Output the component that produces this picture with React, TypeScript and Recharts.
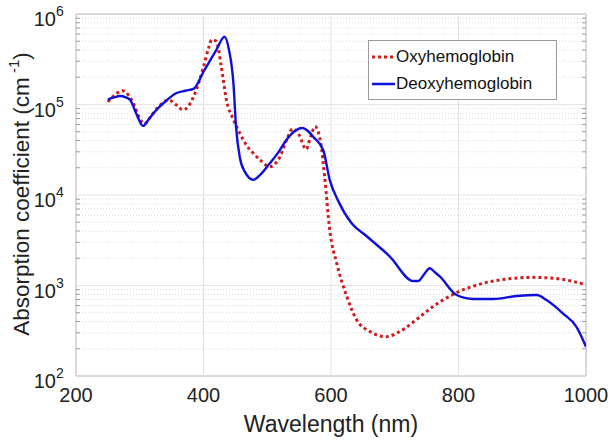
import React from "react";
import {
  LineChart,
  Line,
  XAxis,
  YAxis,
  ReferenceLine,
  ReferenceArea,
  Legend,
  Label,
} from "recharts";

// wavelengths (nm) and absorption coefficients (cm^-1)
const oxyWavelengths = [
  250, 262, 273, 283, 290, 300, 307, 318, 330, 345, 358, 368, 378, 386, 400,
  408, 413, 420, 428, 436, 447, 457, 468, 478, 490, 504, 512, 520, 530, 540,
  550, 561, 568, 575, 584, 590, 598, 609, 625, 640, 661, 686, 708, 734, 760,
  795, 839, 876, 917, 959, 1000,
];
const oxyValues = [
  1.07e5, 1.3e5, 1.42e5, 1.25e5, 1.03e5, 7e4, 6.1e4, 7.5e4, 9.5e4, 1.12e5,
  9.8e4, 8.7e4, 1e5, 1.3e5, 2.6e5, 4.2e5, 5.2e5, 5.0e5, 2.6e5, 1.12e5, 6.8e4,
  4.8e4, 3.5e4, 2.9e4, 2.4e4, 2.05e4, 2.2e4, 2.65e4, 4e4, 5.4e4, 4.6e4, 3.2e4,
  4.4e4, 5.7e4, 3.7e4, 1.6e4, 4.1e3, 1.76e3, 750, 420, 310, 272, 310, 420, 585,
  820, 1060, 1180, 1230, 1180, 1020,
];

const deoxyWavelengths = [
  250, 260, 269, 278, 285, 295, 305, 315, 326, 340, 357, 372, 385, 400, 420,
  433, 440, 447, 451, 457, 465, 478, 490, 504, 518, 530, 545, 555, 565, 572,
  588, 598, 611, 632, 656, 692, 729, 737, 745, 755, 763, 771, 797, 823, 855,
  891, 923, 938, 964, 985, 1000,
];
const deoxyValues = [
  1.14e5, 1.2e5, 1.24e5, 1.2e5, 1.12e5, 7.8e4, 5.8e4, 7e4, 8.7e4, 1.08e5,
  1.33e5, 1.42e5, 1.5e5, 2.3e5, 4e5, 5.6e5, 4e5, 1.7e5, 5.7e4, 2.6e4, 1.8e4,
  1.47e4, 1.7e4, 2.24e4, 3e4, 4.05e4, 5.2e4, 5.5e4, 5e4, 4.4e4, 3.1e4, 1.47e4,
  8.7e3, 4.9e3, 3.5e3, 2.1e3, 1.12e3, 1.12e3, 1.3e3, 1.55e3, 1.4e3, 1.25e3,
  785, 710, 710, 765, 785, 690, 490, 350, 211,
];

const xTicks = [200, 400, 600, 800, 1000];
const yTicks = [1e2, 1e3, 1e4, 1e5, 1e6];
const seriesNames = ["Oxyhemoglobin", "Deoxyhemoglobin"];

const oxyData = oxyWavelengths.map((x, i) => ({ x, y: oxyValues[i] }));
const deoxyData = deoxyWavelengths.map((x, i) => ({ x, y: deoxyValues[i] }));

const minorY: number[] = [];
yTicks.slice(0, -1).forEach((d) => {
  for (let m = 2; m <= 9; m++) minorY.push(d * m);
});

const FONT = "'Liberation Sans', Arial, sans-serif";
const RED = "#d01c1c";
const BLUE = "#0f0fdc";

const YTick = (props: any) => {
  const { y, payload } = props;
  const exp = Math.round(Math.log10(payload.value));
  return (
    <g fontFamily={FONT} fill="#222">
      <text x={56} y={y + 12} textAnchor="end" fontSize={20}>
        10
      </text>
      <text x={56} y={y + 2} textAnchor="start" fontSize={14}>
        {exp}
      </text>
    </g>
  );
};

const XTick = (props: any) => {
  const { x, payload } = props;
  return (
    <text
      x={x}
      y={402}
      textAnchor="middle"
      fontSize={20}
      fontFamily={FONT}
      fill="#222"
    >
      {payload.value}
    </text>
  );
};

const LegendBox = () => (
  <div
    style={{
      width: 187,
      height: 58,
      border: "1px solid #9a9a9a",
      background: "#fff",
      fontFamily: FONT,
      fontSize: 17,
      color: "#111",
      boxSizing: "content-box",
    }}
  >
    {seriesNames.map((name, i) => (
      <div
        key={name}
        style={{
          display: "flex",
          alignItems: "center",
          height: 27,
          marginTop: i === 0 ? 2 : 0,
        }}
      >
        <svg width={25} height={10} style={{ marginLeft: 2, marginRight: 0 }}>
          <line
            x1={1}
            y1={5}
            x2={24}
            y2={5}
            stroke={i === 0 ? RED : BLUE}
            strokeWidth={i === 0 ? 3 : 2.5}
            strokeDasharray={i === 0 ? "3 3" : undefined}
          />
        </svg>
        <span>{name}</span>
      </div>
    ))}
  </div>
);

export default function App() {
  return (
    <div style={{ position: "absolute", left: 0, top: 0, background: "#fff" }}>
      <LineChart
        width={614}
        height={440}
        margin={{ top: 14, right: 28, bottom: 14, left: 16 }}
      >
        <XAxis
          type="number"
          dataKey="x"
          domain={[200, 1000]}
          ticks={xTicks}
          allowDataOverflow
          axisLine={false}
          tickLine={false}
          tick={<XTick />}
          height={50}
        >
          <Label
            content={() => (
              <text
                x={331}
                y={432}
                textAnchor="middle"
                fontSize={23}
                fontFamily={FONT}
                fill="#222"
              >
                Wavelength (nm)
              </text>
            )}
          />
        </XAxis>
        <YAxis
          type="number"
          dataKey="y"
          scale="log"
          domain={[100, 1e6]}
          ticks={yTicks}
          allowDataOverflow
          axisLine={false}
          tickLine={false}
          tick={<YTick />}
          width={60}
        >
          <Label
            content={() => (
              <text
                x={29}
                y={194}
                transform="rotate(-90 29 194)"
                textAnchor="middle"
                fontSize={22.5}
                fontFamily={FONT}
                fill="#222"
              >
                Absorption coefficient (cm
                <tspan fontSize={15} dy={-10}>
                  {" "}-1
                </tspan>
                <tspan dy={10}>)</tspan>
              </text>
            )}
          />
        </YAxis>
        {minorY.map((v) => (
          <ReferenceLine
            key={`m${v}`}
            y={v}
            stroke="#d8d8d8"
            strokeWidth={1}
            strokeDasharray="1 2"
          />
        ))}
        {yTicks.map((v) => (
          <ReferenceLine key={`y${v}`} y={v} stroke="#e4e4e4" strokeWidth={1} />
        ))}
        {xTicks.map((v) => (
          <ReferenceLine key={`x${v}`} x={v} stroke="#e4e4e4" strokeWidth={1} />
        ))}
        {minorY.map((v) => (
          <ReferenceLine
            key={`tl${v}`}
            segment={[
              { x: 200, y: v },
              { x: 206, y: v },
            ]}
            stroke="#9a9a9a"
            strokeWidth={1}
          />
        ))}
        {minorY.map((v) => (
          <ReferenceLine
            key={`tr${v}`}
            segment={[
              { x: 994, y: v },
              { x: 1000, y: v },
            ]}
            stroke="#9a9a9a"
            strokeWidth={1}
          />
        ))}
        <ReferenceArea
          x1={200}
          x2={1000}
          y1={100}
          y2={1e6}
          fill="none"
          stroke="#9a9a9a"
          strokeWidth={1}
        />
        <Line
          data={oxyData}
          dataKey="y"
          name={seriesNames[0]}
          type="monotone"
          stroke={RED}
          strokeWidth={3}
          strokeDasharray="3 3"
          dot={false}
          isAnimationActive={false}
        />
        <Line
          data={deoxyData}
          dataKey="y"
          name={seriesNames[1]}
          type="monotone"
          stroke={BLUE}
          strokeWidth={2.4}
          dot={false}
          isAnimationActive={false}
        />
        <Legend
          layout="horizontal"
          verticalAlign="middle"
          align="center"
          content={<LegendBox />}
          wrapperStyle={{ position: "absolute", left: 368, top: 40, width: 189 }}
        />
      </LineChart>
    </div>
  );
}
